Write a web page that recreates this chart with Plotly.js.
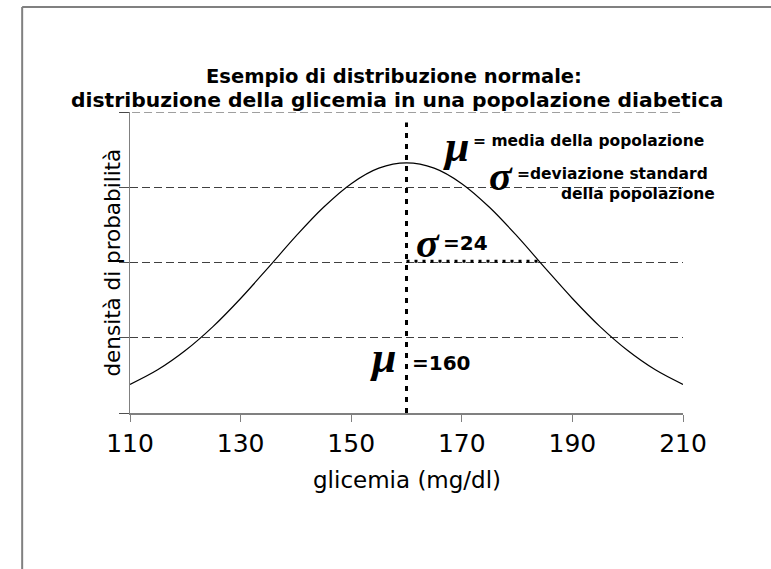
<!DOCTYPE html>
<html>
<head>
<meta charset="utf-8">
<script src="https://cdn.plot.ly/plotly-3.0.1.min.js"></script>
<style>
  html, body { margin: 0; padding: 0; background: #fff; }
  #chart { width: 771px; height: 569px; }
</style>
</head>
<body>
<div id="chart"></div>
<script>
// ---- data ----
const glicemia = [110,115,120,125,130,135,140,145,150,155,160,165,170,175,180,185,190,195,200,205,210];
const densita  = [0.00190,0.00287,0.00415,0.00574,0.00761,0.00966,0.01175,0.01367,0.01524,0.01627,0.01662,
                  0.01627,0.01524,0.01367,0.01175,0.00966,0.00761,0.00574,0.00415,0.00287,0.00190];
const xTicks = [110,130,150,170,190,210];
const yGrid  = [0,0.005,0.010,0.015,0.020];
const yTop = 0.020;
const media = 160;
const sigma = 24;
const sigmaLevel = 0.01008;

const titleLine1 = "Esempio di distribuzione normale:";
const titleLine2 = "distribuzione della glicemia in una popolazione diabetica";
const xTitle = "glicemia (mg/dl)";
const yTitle = "densità di probabilità";

const SANS = "DejaVu Sans, Verdana, sans-serif";
const SERIF = "Liberation Serif, Times New Roman, serif";

const trace = {
  x: glicemia, y: densita, type: "scatter", mode: "lines",
  line: {color: "#000", width: 1.2, shape: "spline"},
  hoverinfo: "skip", showlegend: false
};

const ann = [
  {text: "<b>" + titleLine1 + "</b>", xref: "paper", yref: "paper", x: 0.478, y: 1.1176,
   xanchor: "center", yanchor: "middle", showarrow: false, font: {family: SANS, size: 19.5, color: "#000"}},
  {text: "<b>" + titleLine2 + "</b>", xref: "paper", yref: "paper", x: 0.482, y: 1.0389,
   xanchor: "center", yanchor: "middle", showarrow: false, font: {family: SANS, size: 20.3, color: "#000"}},
  {text: yTitle, xref: "paper", yref: "paper", x: -0.0325, y: 0.5, textangle: -90,
   xanchor: "center", yanchor: "middle",
   showarrow: false, font: {family: SANS, size: 21.5, color: "#000"}},
  {text: xTitle, xref: "paper", yref: "paper", x: 0.501, y: -0.2226,
   xanchor: "center", yanchor: "middle",
   showarrow: false, font: {family: SANS, size: 23, color: "#000"}},
  // legend-like explanations
  {text: "<b><i>μ</i></b>", x: 168.9, y: 0.0177, xref: "x", yref: "y", showarrow: false,
   font: {family: SERIF, size: 44, color: "#000"}},
  {text: "<b>= media della popolazione</b>", x: 171.6, y: 0.01807, xref: "x", yref: "y", xanchor: "left",
   showarrow: false, font: {family: SANS, size: 15.5, color: "#000"}},
  {text: "<b><i>σ</i></b>", x: 177.1, y: 0.01575, xref: "x", yref: "y", showarrow: false,
   font: {family: SERIF, size: 42, color: "#000"}},
  {text: "<b>=deviazione standard</b>", x: 179.6, y: 0.01588, xref: "x", yref: "y", xanchor: "left",
   showarrow: false, font: {family: SANS, size: 15.5, color: "#000"}},
  {text: "<b>della popolazione</b>", x: 201.9, y: 0.01455, xref: "x", yref: "y",
   showarrow: false, font: {family: SANS, size: 15.5, color: "#000"}},
  // sigma = 24
  {text: "<b><i>σ</i></b>", x: 163.9, y: 0.0113, xref: "x", yref: "y", showarrow: false,
   font: {family: SERIF, size: 42, color: "#000"}},
  {text: "<b>=" + sigma + "</b>", x: 166.2, y: 0.0113, xref: "x", yref: "y", xanchor: "left",
   showarrow: false, font: {family: SANS, size: 20, color: "#000"}},
  // mu = 160
  {text: "<b><i>μ</i></b>", x: 155.7, y: 0.0037, xref: "x", yref: "y", showarrow: false,
   font: {family: SERIF, size: 44, color: "#000"}},
  {text: "<b>=" + media + "</b>", x: 160.6, y: 0.00332, xref: "x", yref: "y", xanchor: "left",
   showarrow: false, font: {family: SANS, size: 20, color: "#000"}}
];

const shapes = [
  // slide frame
  {type: "line", xref: "paper", yref: "paper", x0: -0.195, x1: 1.2, y0: 1.349, y1: 1.349,
   line: {color: "#808080", width: 2}},
  {type: "line", xref: "paper", yref: "paper", x0: -0.195, x1: -0.195, y0: 1.349, y1: -0.6,
   line: {color: "#808080", width: 2}},
  // top dashed gridline (at the range edge)
  {type: "line", xref: "paper", yref: "y", x0: -0.018, x1: 1, y0: yTop, y1: yTop,
   line: {color: "#404040", width: 1, dash: "8px,4px"}},
  // mean vertical dotted line
  {type: "line", xref: "x", yref: "y", x0: media, x1: media, y0: 0, y1: 0.0193,
   line: {color: "#000", width: 3, dash: "5px,6px"}},
  // sigma horizontal dotted line
  {type: "line", xref: "x", yref: "y", x0: media, x1: media + sigma, y0: sigmaLevel, y1: sigmaLevel,
   line: {color: "#000", width: 3, dash: "3px,5px"}}
];

const layout = {
  width: 771, height: 569,
  margin: {l: 130, r: 88, t: 112, b: 156, pad: 0},
  paper_bgcolor: "#fff", plot_bgcolor: "#fff",
  showlegend: false,
  xaxis: {range: [110, 210], tickvals: xTicks, ticktext: xTicks.map(String),
          ticks: "outside", ticklen: 7, tickcolor: "#808080", tickwidth: 1,
          showline: true, linecolor: "#808080", linewidth: 1.5,
          showgrid: false, zeroline: false,
          tickfont: {family: SANS, size: 25, color: "#000"}, fixedrange: true},
  yaxis: {range: [0, yTop], tickvals: yGrid, showticklabels: false,
          ticks: "outside", ticklen: 10, tickcolor: "#505050", tickwidth: 1,
          showline: true, linecolor: "#808080", linewidth: 1.5,
          showgrid: true, gridcolor: "#404040", gridwidth: 1, griddash: "8px,4px",
          zeroline: false, fixedrange: true},
  annotations: ann,
  shapes: shapes
};

Plotly.newPlot("chart", [trace], layout, {displayModeBar: false, staticPlot: true});
</script>
</body>
</html>
